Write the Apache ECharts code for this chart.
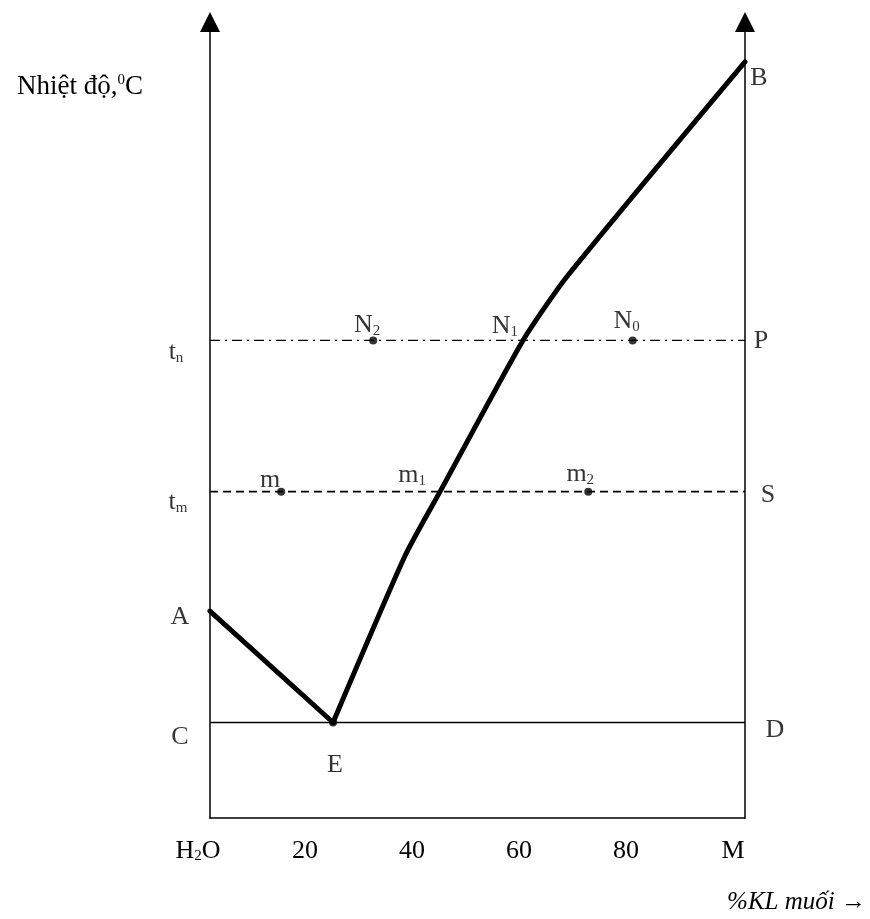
<!DOCTYPE html>
<html>
<head>
<meta charset="utf-8">
<title>Giản đồ pha H₂O – muối</title>
<script src="https://cdn.jsdelivr.net/npm/echarts@6/dist/echarts.min.js"></script>
<style>
  html, body { margin: 0; padding: 0; background: #fff; }
  #chart { width: 870px; height: 919px; }
</style>
</head>
<body>
<div id="chart"></div>
<script>
// Composition axis (% salt by mass) and its tick labels
const xTicks = [0, 20, 40, 60, 80, 100];
const tickLabels = ['H_2O', '20', '40', '60', '80', 'M'];

// Liquidus A–E (ice branch) and E–B (salt branch)
const liquidusX = [0, 23, 36.5, 43, 58.5, 66.7, 100];
const liquidusY = [26, 12, 33, 41, 60, 68, 95];
const eutecticIndex = 1;   // E splits the two branches

// Characteristic temperatures
const eutecticT = 12;   // line C–E–D
const tM = 41;          // t_m
const tN = 60;          // t_n

// Marked states
const dotNames = ['m', 'm_2', 'N_2', 'N_0', 'E'];
const dotX = [13.3, 70.7, 30.5, 79, 23];
const dotY = [tM, tM, tN, tN, eutecticT];

// Named points on the diagram
const pointNames = ['A', 'C', 'E', 'D', 'B', 't_n', 't_m', 'P', 'S', 'm', 'm_1', 'm_2', 'N_2', 'N_1', 'N_0'];
const pointX = [0, 0, 23, 100, 100, 0, 0, 100, 100, 13.3, 43, 70.7, 30.5, 58.5, 79];
const pointY = [26, eutecticT, eutecticT, eutecticT, 95, tN, tM, tN, tM, tM, tM, tM, tN, tN, tN];

// ---- styling ----
const FONT = '"Liberation Serif", "Times New Roman", serif';
const INK = '#000';
const TXT = '#000';
const richSub = { sub: { fontFamily: FONT, fontSize: 15, color: TXT, verticalAlign: 'bottom', lineHeight: 14 } };

// "t_n" -> "t{sub|n}"
function subText(s) { return s.replace(/_(\w)/g, '{sub|$1}'); }

// label offsets (px) from each named point
const labelOffset = {
  'A': [-30, 6], 'C': [-30, 15], 'E': [2, 43], 'D': [30, 8], 'B': [14, 16],
  't_n': [-34, 12], 't_m': [-32, 11], 'P': [16, 1], 'S': [23, 4],
  'm': [-11, -11], 'm_1': [-28, -16], 'm_2': [-8, -17],
  'N_2': [-6, -15], 'N_1': [-18, -14], 'N_0': [-6, -19]
};

const chart = echarts.init(document.getElementById('chart'), null, { renderer: 'canvas' });

const yAxisBase = {
  type: 'value', min: 0, max: 100,
  axisLine: {
    show: true, onZero: false,
    symbol: ['none', 'triangle'], symbolSize: [20, 20],
    lineStyle: { color: INK, width: 1.5 }
  },
  axisTick: { show: false },
  axisLabel: { show: false },
  splitLine: { show: false }
};

const hLine = (y) => [[0, y], [100, y]];
const liquidusPts = liquidusX.map((x, i) => [x, liquidusY[i]]);
const thick = { color: INK, width: 5, join: 'round', cap: 'round' };

const option = {
  animation: false,
  backgroundColor: '#fff',
  title: {
    text: 'Nhiệt độ,{sup|0}C',
    left: 12, top: 68,
    textStyle: {
      fontFamily: FONT, fontSize: 27, fontWeight: 'normal', color: TXT, lineHeight: 28,
      rich: { sup: { fontFamily: FONT, fontSize: 15, color: TXT, verticalAlign: 'top', lineHeight: 15 } }
    }
  },
  graphic: [{
    type: 'text', right: 4, top: 890,
    style: {
      text: '%KL muối →', fontFamily: FONT, fontSize: 25, fontStyle: 'italic', fill: TXT
    }
  }],
  grid: { left: 210, right: 125, top: 22, bottom: 101 },
  xAxis: {
    type: 'value', min: 0, max: 100, interval: 20,
    axisLine: { show: true, onZero: false, lineStyle: { color: INK, width: 1.5 } },
    axisTick: { show: false },
    splitLine: { show: false },
    axisLabel: {
      margin: 20, fontFamily: FONT, fontSize: 26, color: TXT,
      showMinLabel: true, showMaxLabel: true,
      padding: [0, 24, 0, 0],
      formatter: (v) => subText(tickLabels[xTicks.indexOf(v)] || ''),
      rich: richSub
    }
  },
  yAxis: [
    Object.assign({}, yAxisBase, { position: 'left' }),
    Object.assign({}, yAxisBase, { position: 'right' })
  ],
  series: [
    {
      name: 'ice branch', type: 'line', z: 5, silent: true, showSymbol: false,
      data: liquidusPts.slice(0, eutecticIndex + 1),
      lineStyle: thick
    },
    {
      name: 'salt branch', type: 'line', z: 5, silent: true, showSymbol: false,
      smooth: 0.2,
      data: liquidusPts.slice(eutecticIndex),
      lineStyle: thick
    },
    {
      name: 'CD', type: 'line', silent: true, showSymbol: false,
      data: hLine(eutecticT),
      lineStyle: { color: INK, width: 1.5 }
    },
    {
      name: 'tm', type: 'line', silent: true, showSymbol: false,
      data: hLine(tM),
      lineStyle: { color: INK, width: 1.6, type: [8, 5] }
    },
    {
      name: 'tn', type: 'line', silent: true, showSymbol: false,
      data: hLine(tN),
      lineStyle: { color: INK, width: 1.4, type: [10, 5, 2, 5] }
    },
    {
      name: 'dots', type: 'scatter', silent: true, z: 6,
      symbolSize: 8, itemStyle: { color: INK },
      data: dotX.map((x, i) => ({ name: dotNames[i], value: [x, dotY[i]] }))
    },
    {
      name: 'labels', type: 'scatter', silent: true, z: 7,
      symbolSize: 0, itemStyle: { color: 'rgba(0,0,0,0)' },
      data: pointNames.map((n, i) => ({
        name: n,
        value: [pointX[i], pointY[i]],
        label: {
          show: true, position: 'inside',
          offset: labelOffset[n] || [0, 0],
          formatter: subText(n),
          fontFamily: FONT, fontSize: 26, color: TXT,
          rich: richSub
        }
      }))
    }
  ]
};

chart.setOption(option);
</script>
</body>
</html>
